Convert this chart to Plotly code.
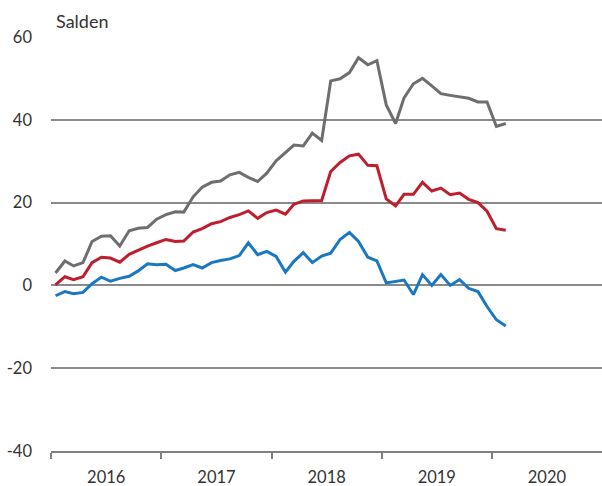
import pandas as pd
import plotly.graph_objects as go

start_month = "2016-01-01"
n_months = 50

grey_vals = [3.0, 5.9, 4.7, 5.5, 10.6, 11.9, 12.0, 9.5, 13.2, 13.8, 14.0, 16.0,
             17.1, 17.8, 17.7, 21.4, 23.7, 24.9, 25.2, 26.7, 27.3, 26.1, 25.1, 27.1,
             30.1, 32.1, 33.9, 33.7, 36.8, 35.0, 49.4, 49.9, 51.4, 55.0, 53.3, 54.3,
             43.6, 39.1, 45.3, 48.7, 50.0, 48.2, 46.3, 45.9, 45.5, 45.2, 44.3, 44.3,
             38.4, 39.1]
red_vals = [0.1, 2.1, 1.4, 2.1, 5.5, 6.8, 6.6, 5.6, 7.5, 8.5, 9.5, 10.3,
            11.1, 10.6, 10.7, 12.9, 13.7, 14.9, 15.4, 16.4, 17.1, 18.0, 16.2, 17.6,
            18.2, 17.2, 19.6, 20.4, 20.5, 20.5, 27.5, 29.7, 31.3, 31.7, 29.0, 28.9,
            20.9, 19.2, 22.0, 22.0, 24.9, 22.8, 23.5, 21.9, 22.3, 20.8, 20.0, 17.9,
            13.7, 13.3]
blue_vals = [-2.5, -1.5, -2.0, -1.7, 0.4, 2.0, 1.0, 1.7, 2.2, 3.5, 5.2, 5.0,
             5.1, 3.6, 4.2, 5.0, 4.2, 5.5, 6.0, 6.4, 7.2, 10.3, 7.4, 8.2,
             7.0, 3.2, 5.8, 7.9, 5.5, 7.1, 7.8, 11.1, 12.8, 10.6, 6.8, 5.9,
             0.6, 0.9, 1.3, -2.2, 2.6, 0.0, 2.6, 0.0, 1.4, -0.7, -1.5, -5.1,
             -8.3, -9.8]

y_ticks = [-40, -20, 0, 20, 40, 60]
y_tick_labels = ["-40", "-20", "0", "20", "40", "60"]
y_title = "Salden"

dates = pd.date_range(start_month, periods=n_months, freq="MS") + pd.Timedelta(days=15)

fig = go.Figure()
for vals, col in [(grey_vals, "#6d6e70"), (red_vals, "#be1e2d"), (blue_vals, "#1a78c2")]:
    fig.add_trace(go.Scatter(x=dates, y=vals, mode="lines",
                             line=dict(color=col, width=3), hoverinfo="skip",
                             showlegend=False))

# darker reference lines at 0 and 20
for yv in [0, 20]:
    fig.add_shape(type="line", xref="paper", yref="y", x0=0, x1=1, y0=yv, y1=yv,
                  line=dict(color="#1a1a1a", width=1.2), layer="below")

fig.add_annotation(text=y_title, xref="paper", yref="paper", x=0.005, y=1.0,
                   xanchor="left", yanchor="bottom", yshift=3, showarrow=False,
                   font=dict(size=18, color="#333333"))

fig.update_layout(
    width=602, height=486,
    margin=dict(l=51, r=0, t=37, b=35),
    paper_bgcolor="white", plot_bgcolor="white",
    font=dict(family="Lato, 'Noto Sans', sans-serif", size=16.5, color="#333333"),
    xaxis=dict(type="date", range=["2016-01-01", "2020-12-31"],
               tick0="2016-01-01", dtick="M12", tickformat="%Y",
               ticklabelmode="period", ticks="outside", ticklen=6,
               tickcolor="#808080", tickwidth=1.5, ticklabelstandoff=4,
               showgrid=False, showline=True, linecolor="#808080", linewidth=2,
               zeroline=False, fixedrange=True, automargin=False),
    yaxis=dict(range=[-40, 60], tickvals=y_ticks, ticktext=y_tick_labels,
               showgrid=True, gridcolor="#8a8a8a", gridwidth=1.6,
               zeroline=False, showline=False, ticks="", ticklabelstandoff=18,
               fixedrange=True, automargin=False),
)

fig.write_html("out.html", config={"displayModeBar": False},
               post_script="document.body.style.margin='0';document.body.style.overflow='hidden';")
